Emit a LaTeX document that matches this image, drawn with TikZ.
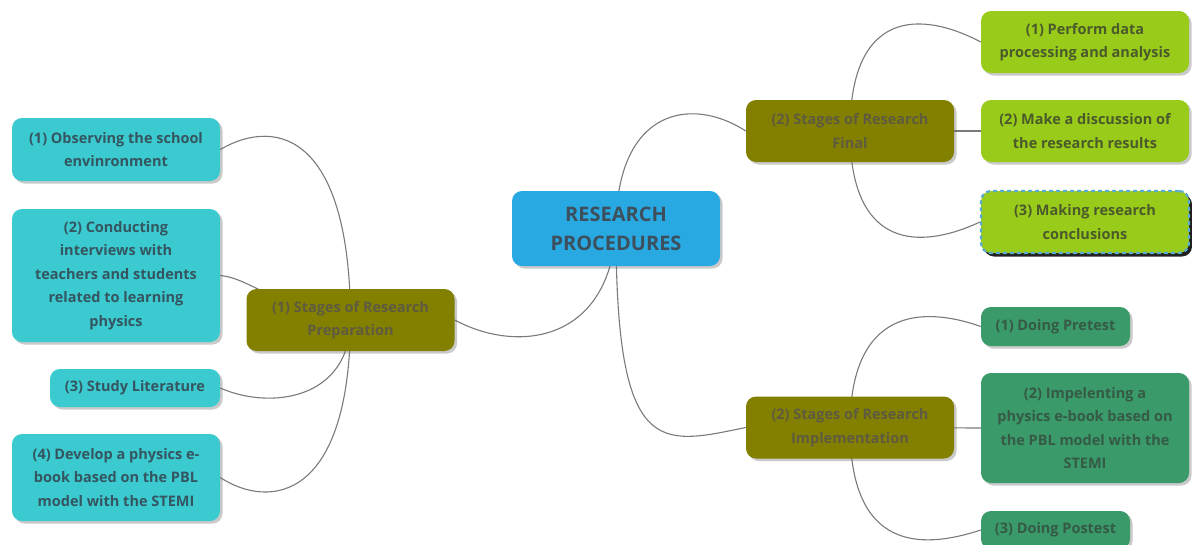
\documentclass[tikz,border=0pt]{standalone}
\usepackage{fontspec}
\setmainfont{Open Sans}
\usetikzlibrary{shadows,backgrounds}
\definecolor{hubfill}{HTML}{29A9E1}
\definecolor{hubtext}{HTML}{3D4F5C}
\definecolor{olivefill}{HTML}{838000}
\definecolor{olivetext}{HTML}{5E5B40}
\definecolor{cyanfill}{HTML}{3ACACF}
\definecolor{cyantext}{HTML}{355560}
\definecolor{limefill}{HTML}{99CC1A}
\definecolor{limetext}{HTML}{4B5A2B}
\definecolor{greenfill}{HTML}{3A9A6A}
\definecolor{greentext}{HTML}{355A45}
\definecolor{linkgray}{HTML}{7A7A7A}
\definecolor{dashblue}{HTML}{5AAAD2}
\tikzset{
  box/.style={rounded corners=10pt, align=center, inner sep=0pt,
    font=\bfseries\fontsize{14.5}{23.5}\selectfont,
    drop shadow={shadow xshift=2.5pt, shadow yshift=-2.5pt, opacity=0.35, fill=black!60}},
  hub/.style={box, fill=hubfill, text=hubtext, minimum width=208pt, minimum height=75pt,
    font=\bfseries\fontsize{20}{29}\selectfont},
  stage/.style={box, fill=olivefill, text=olivetext, minimum width=208pt, minimum height=62pt},
  leftleaf/.style={box, fill=cyanfill, text=cyantext, minimum width=208pt},
  limeleaf/.style={box, fill=limefill, text=limetext, minimum width=208pt, minimum height=62pt},
  greenleaf/.style={box, fill=greenfill, text=greentext, minimum width=208pt},
  link/.style={draw=linkgray, line width=1.1pt},
}
\begin{document}
\begin{tikzpicture}[x=1pt, y=-1pt]
\useasboundingbox (0,0) rectangle (1192,544);
\clip (0,0) rectangle (1192,544);

% central topic
\node[hub] (hub) at (616,228.5) {RESEARCH\\PROCEDURES};

% main stages
\node[stage] (prep) at (350.5,320) {(1) Stages of Research\\Preparation};
\node[stage] (final) at (850,131) {(2) Stages of Research\\Final};
\node[stage] (impl) at (850,427.5) {(2) Stages of Research\\Implementation};

% preparation steps
\node[leftleaf, minimum height=63pt] (obs) at (116,149.5) {(1) Observing the school\\envinronment};
\node[leftleaf, minimum height=133pt] (cond) at (116,275.5) {(2) Conducting\\interviews with\\teachers and students\\related to learning\\physics};
\node[leftleaf, minimum width=170pt, minimum height=38pt] (lit) at (135,388) {(3) Study Literature};
\node[leftleaf, minimum height=87pt] (dev) at (116,477.5) {(4) Develop a physics e-\\book based on the PBL\\model with the STEMI};

% final steps
\node[limeleaf] (perf) at (1085,42) {(1) Perform data\\processing and analysis};
\node[limeleaf] (disc) at (1085,131) {(2) Make a discussion of\\the research results};
\node[limeleaf, draw=dashblue, line width=2.2pt, dash pattern=on 4pt off 3pt,
  drop shadow={shadow xshift=3pt, shadow yshift=-3.5pt, opacity=0.85, fill=black}]
  (concl) at (1085,222) {(3) Making research\\conclusions};

% implementation steps
\node[greenleaf, minimum width=149pt, minimum height=39pt] (pre) at (1055.5,326.5) {(1) Doing Pretest};
\node[greenleaf, minimum height=110pt] (impe) at (1085,428) {(2) Impelenting a\\physics e-book based on\\the PBL model with the\\STEMI};
\node[greenleaf, minimum width=149pt, minimum height=38pt] (post) at (1055.5,530) {(3) Doing Postest};

% branches, drawn from each parent's centre behind the boxes
\begin{pgfonlayer}{background}
\path[link] (hub.center) .. controls (610,340) and (520,355) .. (prep.east);
\path[link] (hub.center) .. controls (616,110) and (690,95) .. (final.west);
\path[link] (hub.center) .. controls (616,460) and (660,445) .. (impl.west);

\path[link] (prep.center) .. controls (350,140) and (280,115) .. (obs.east);
\path[link] (prep.center) .. controls (280,310) and (250,278) .. (cond.east);
\path[link] (prep.center) .. controls (350,400) and (270,410) .. (lit.east);
\path[link] (prep.center) .. controls (350,500) and (270,510) .. (dev.east);

\path[link] (final.center) .. controls (850,10) and (920,10) .. (perf.west);
\path[link] (final.center) -- (disc.west);
\path[link] (final.center) .. controls (850,250) and (920,250) .. (concl.west);

\path[link] (impl.center) .. controls (850,310) and (920,305) .. (pre.west);
\path[link] (impl.center) -- (impe.west);
\path[link] (impl.center) .. controls (850,550) and (920,550) .. (post.west);
\end{pgfonlayer}
\end{tikzpicture}
\end{document}
